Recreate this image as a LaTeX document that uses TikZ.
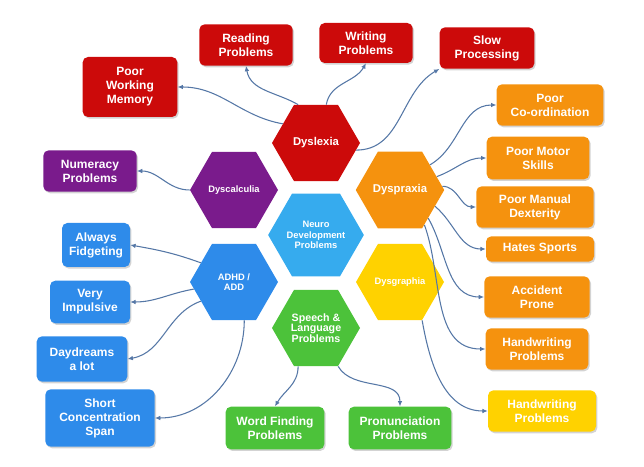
\documentclass[tikz,border=0pt]{standalone}
\usepackage{fontspec}
\setmainfont{Liberation Sans}
\usetikzlibrary{shapes.geometric,shadows,arrows.meta}
\definecolor{cred}{HTML}{CC0A0A}
\definecolor{corange}{HTML}{F5920E}
\definecolor{cyellow}{HTML}{FFD200}
\definecolor{cgreen}{HTML}{4CC23A}
\definecolor{cblue}{HTML}{2E8BEA}
\definecolor{ccyan}{HTML}{36ABEE}
\definecolor{cpurple}{HTML}{7A1B8C}
\definecolor{cline}{HTML}{5577A6}
\tikzset{
 hexa/.style={regular polygon,regular polygon sides=6,shape border rotate=0,minimum size=66pt,inner sep=0pt,text=white,font=\bfseries\fontsize{7}{8}\selectfont,align=center},
 box/.style={rounded corners=4pt,text=white,font=\bfseries\fontsize{9}{10.5}\selectfont,align=center,drop shadow={opacity=0.35,shadow xshift=1pt,shadow yshift=-1.2pt},inner sep=2pt},
 con/.style={draw=cline,line width=0.8pt,-{Latex[length=4pt,width=3.5pt]}}
}
\begin{document}
\begin{tikzpicture}[x=0.75pt,y=-0.75pt]
\useasboundingbox (0,0) rectangle (644,467);
% hexagons
\node[hexa,fill=ccyan] (neu) at (316,235) {Neuro\\Development\\Problems};
\node[hexa,fill=cred] (dys) at (316,143) {\fontsize{8.5}{9}\selectfont Dyslexia};
\node[hexa,fill=cpurple] (dyc) at (234,190) {Dyscalculia};
\node[hexa,fill=corange] (dyp) at (400,190) {\fontsize{8.5}{9}\selectfont Dyspraxia};
\node[hexa,fill=cblue] (adh) at (234,282) {ADHD /\\ADD};
\node[hexa,fill=cyellow] (dyg) at (400,282) {Dysgraphia};
\node[hexa,fill=cgreen] (spe) at (316,328) {\fontsize{8}{9}\selectfont Speech \&\\\fontsize{8}{9}\selectfont Language\\\fontsize{8}{9}\selectfont Problems};
% boxes
\node[box,fill=cred,minimum width=71pt,minimum height=45pt] (pwm) at (130,87) {Poor\\Working\\Memory};
\node[box,fill=cred,minimum width=70pt,minimum height=31pt] (rea) at (246,45) {Reading\\Problems};
\node[box,fill=cred,minimum width=70pt,minimum height=30pt] (wri) at (366,43) {Writing\\Problems};
\node[box,fill=cred,minimum width=71pt,minimum height=31pt] (slo) at (487,48) {Slow\\Processing};
\node[box,fill=corange,minimum width=80pt,minimum height=31pt] (pco) at (550,105) {Poor\\Co-ordination};
\node[box,fill=corange,minimum width=77pt,minimum height=32pt] (pms) at (538,158) {Poor Motor\\Skills};
\node[box,fill=corange,minimum width=88pt,minimum height=31pt] (pmd) at (535,207) {Poor Manual\\Dexterity};
\node[box,fill=corange,minimum width=81pt,minimum height=19pt] (hat) at (540,249) {Hates Sports};
\node[box,fill=corange,minimum width=79pt,minimum height=31pt] (acc) at (537,297) {Accident\\Prone};
\node[box,fill=corange,minimum width=77pt,minimum height=31pt] (hw1) at (537,349) {Handwriting\\Problems};
\node[box,fill=cyellow,minimum width=81pt,minimum height=31pt] (hw2) at (542,411) {Handwriting\\Problems};
\node[box,fill=cgreen,minimum width=77pt,minimum height=32pt] (pro) at (400,428) {Pronunciation\\Problems};
\node[box,fill=cgreen,minimum width=74pt,minimum height=32pt] (wfp) at (275,428) {Word Finding\\Problems};
\node[box,fill=cblue,minimum width=82pt,minimum height=43pt] (sho) at (100,418) {Short\\Concentration\\Span};
\node[box,fill=cblue,minimum width=68pt,minimum height=34pt] (day) at (82,359) {Daydreams\\a lot};
\node[box,fill=cblue,minimum width=60pt,minimum height=32pt] (imp) at (90,302) {Very\\Impulsive};
\node[box,fill=cblue,minimum width=51pt,minimum height=33pt] (fid) at (96,245) {Always\\Fidgeting};
\node[box,fill=cpurple,minimum width=70pt,minimum height=31pt] (num) at (90,171) {Numeracy\\Problems};
% connectors
\draw[con] (dys.150) to[out=170,in=0] (pwm.east);
\draw[con] (dys.115) to[out=150,in=-80] (rea.south);
\draw[con] (dys.75) to[out=80,in=-120] (wri.south);
\draw[con] (dys.-10) to[out=0,in=-150] (slo.south west);
\draw[con] (dyp.40) to[out=30,in=180] (pco.west);
\draw[con] (dyp.20) to[out=20,in=180] (pms.west);
\draw[con] (dyp.5) to[out=0,in=180] (pmd.west);
\draw[con] (dyp.-25) to[out=-40,in=180] (hat.west);
\draw[con] (dyp.-45) to[out=-60,in=180] (acc.west);
\draw[con] (dyp.-55) to[out=-70,in=180] (hw1.west);
\draw[con] (dyg.-60) to[out=-80,in=180] (hw2.west);
\draw[con] (spe.-60) to[out=-60,in=90] (pro.north);
\draw[con] (spe.-115) to[out=-90,in=60] (wfp.north);
\draw[con] (dyc.180) to[out=180,in=0] (num.east);
\draw[con] (adh.150) to[out=160,in=-10] (fid.east);
\draw[con] (adh.190) to[out=190,in=0] (imp.east);
\draw[con] (adh.-150) to[out=-160,in=10] (day.east);
\draw[con] (adh.-75) to[out=-90,in=0] (sho.east);
\end{tikzpicture}
\end{document}
